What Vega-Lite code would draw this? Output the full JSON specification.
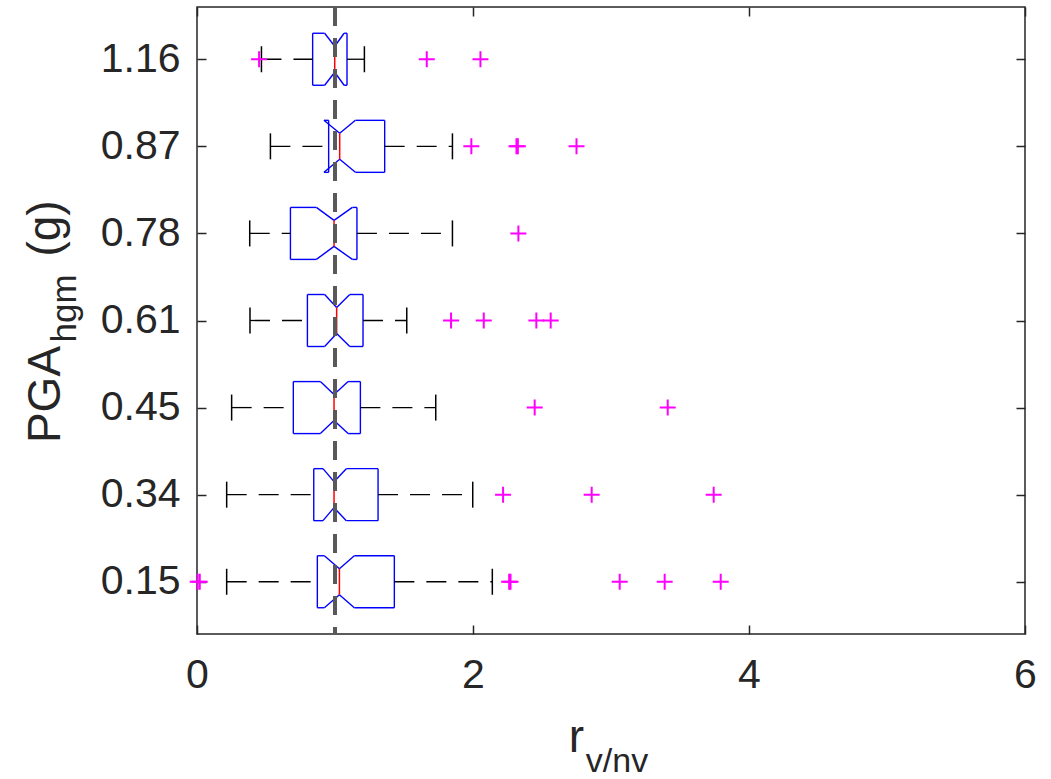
{
  "$schema": "https://vega.github.io/schema/vega-lite/v6.json",
  "autosize": {"type": "none"},
  "padding": {"left": 197, "top": 7, "right": 26, "bottom": 145},
  "width": 828,
  "height": 627,
  "background": "white",
  "config": {
    "font": "Liberation Sans",
    "view": {"stroke": "#262626", "strokeWidth": 1.5},
    "axis": {
      "grid": false,
      "domain": false,
      "labelFont": "Liberation Sans",
      "labelFontSize": 41,
      "labelColor": "#262626",
      "labelFlush": false,
      "tickColor": "#262626",
      "tickWidth": 1.5,
      "tickSize": -9,
      "titleFont": "Liberation Sans",
      "titleFontWeight": "normal",
      "titleColor": "#262626"
    }
  },
  "datasets": {
    "stats": [
      {"pga": "1.16", "wlo": 0.467, "q1": 0.838, "nlo": 0.925, "med": 0.998, "nhi": 1.066, "q3": 1.087, "whi": 1.213},
      {"pga": "0.87", "wlo": 0.532, "q1": 0.954, "nlo": 0.92, "med": 1.034, "nhi": 1.148, "q3": 1.36, "whi": 1.851},
      {"pga": "0.78", "wlo": 0.382, "q1": 0.677, "nlo": 0.865, "med": 0.993, "nhi": 1.126, "q3": 1.159, "whi": 1.851},
      {"pga": "0.61", "wlo": 0.384, "q1": 0.8, "nlo": 0.925, "med": 1.012, "nhi": 1.107, "q3": 1.203, "whi": 1.52},
      {"pga": "0.45", "wlo": 0.251, "q1": 0.698, "nlo": 0.894, "med": 0.993, "nhi": 1.095, "q3": 1.184, "whi": 1.73},
      {"pga": "0.34", "wlo": 0.215, "q1": 0.846, "nlo": 0.913, "med": 0.993, "nhi": 1.082, "q3": 1.312, "whi": 1.998},
      {"pga": "0.15", "wlo": 0.215, "q1": 0.872, "nlo": 0.923, "med": 1.032, "nhi": 1.14, "q3": 1.43, "whi": 2.14}
    ],
    "outliers": [
      {"pga": "1.16", "r": 0.45},
      {"pga": "1.16", "r": 1.665},
      {"pga": "1.16", "r": 2.054},
      {"pga": "0.87", "r": 1.988},
      {"pga": "0.87", "r": 2.315},
      {"pga": "0.87", "r": 2.325},
      {"pga": "0.87", "r": 2.75},
      {"pga": "0.78", "r": 2.329},
      {"pga": "0.61", "r": 1.841},
      {"pga": "0.61", "r": 2.078},
      {"pga": "0.61", "r": 2.459},
      {"pga": "0.61", "r": 2.563},
      {"pga": "0.45", "r": 2.447},
      {"pga": "0.45", "r": 3.411},
      {"pga": "0.34", "r": 2.218},
      {"pga": "0.34", "r": 2.86},
      {"pga": "0.34", "r": 3.744},
      {"pga": "0.15", "r": 0.005},
      {"pga": "0.15", "r": 0.02},
      {"pga": "0.15", "r": 2.262},
      {"pga": "0.15", "r": 2.272},
      {"pga": "0.15", "r": 3.063},
      {"pga": "0.15", "r": 3.389},
      {"pga": "0.15", "r": 3.795}
    ]
  },
  "layer": [
    {
      "data": {"name": "stats"},
      "encoding": {
        "y": {
          "field": "pga", "type": "ordinal",
          "scale": {"type": "point", "domain": ["1.16", "0.87", "0.78", "0.61", "0.45", "0.34", "0.15"], "padding": 0.6},
          "axis": {
            "title": "PGA", "labelPadding": 26,
            "titleFontSize": 46, "titleAngle": -90, "titleAlign": "center", "titleBaseline": "alphabetic",
            "titleX": -138, "titleY": 387
          }
        }
      },
      "layer": [
        {
          "mark": {"type": "rule", "color": "#0000FF", "strokeWidth": 1.4, "yOffset": -26},
          "encoding": {
            "x": {"field": "q1", "type": "quantitative", "scale": {"domain": [0, 6], "nice": false},
              "axis": {"values": [0, 2, 4, 6], "format": "d", "labelPadding": 30, "title": "r",
                "titleFontSize": 46, "titleAlign": "center", "titleBaseline": "alphabetic", "titleX": 379, "titleY": 117}},
            "x2": {"field": "nlo"}
          }
        },
        {
          "mark": {"type": "rule", "color": "#0000FF", "strokeWidth": 1.4, "yOffset": -26, "y2Offset": -13},
          "encoding": {"x": {"field": "nlo", "type": "quantitative"}, "x2": {"field": "med"}, "y2": {"field": "pga"}}
        },
        {
          "mark": {"type": "rule", "color": "#0000FF", "strokeWidth": 1.4, "yOffset": -13, "y2Offset": -26},
          "encoding": {"x": {"field": "med", "type": "quantitative"}, "x2": {"field": "nhi"}, "y2": {"field": "pga"}}
        },
        {
          "mark": {"type": "rule", "color": "#0000FF", "strokeWidth": 1.4, "yOffset": -26},
          "encoding": {"x": {"field": "nhi", "type": "quantitative"}, "x2": {"field": "q3"}}
        },
        {
          "mark": {"type": "rule", "color": "#0000FF", "strokeWidth": 1.4, "yOffset": 26},
          "encoding": {"x": {"field": "q1", "type": "quantitative"}, "x2": {"field": "nlo"}}
        },
        {
          "mark": {"type": "rule", "color": "#0000FF", "strokeWidth": 1.4, "yOffset": 26, "y2Offset": 13},
          "encoding": {"x": {"field": "nlo", "type": "quantitative"}, "x2": {"field": "med"}, "y2": {"field": "pga"}}
        },
        {
          "mark": {"type": "rule", "color": "#0000FF", "strokeWidth": 1.4, "yOffset": 13, "y2Offset": 26},
          "encoding": {"x": {"field": "med", "type": "quantitative"}, "x2": {"field": "nhi"}, "y2": {"field": "pga"}}
        },
        {
          "mark": {"type": "rule", "color": "#0000FF", "strokeWidth": 1.4, "yOffset": 26},
          "encoding": {"x": {"field": "nhi", "type": "quantitative"}, "x2": {"field": "q3"}}
        },
        {
          "mark": {"type": "rule", "color": "#0000FF", "strokeWidth": 1.4, "yOffset": -26, "y2Offset": 26},
          "encoding": {"x": {"field": "q1", "type": "quantitative"}, "y2": {"field": "pga"}}
        },
        {
          "mark": {"type": "rule", "color": "#0000FF", "strokeWidth": 1.4, "yOffset": -26, "y2Offset": 26},
          "encoding": {"x": {"field": "q3", "type": "quantitative"}, "y2": {"field": "pga"}}
        },
        {
          "mark": {"type": "rule", "color": "#FF0000", "strokeWidth": 1.5, "yOffset": -13, "y2Offset": 13},
          "encoding": {"x": {"field": "med", "type": "quantitative"}, "y2": {"field": "pga"}}
        },
        {
          "mark": {"type": "rule", "color": "#000000", "strokeWidth": 1.3, "strokeDash": [20, 12]},
          "encoding": {"x": {"field": "wlo", "type": "quantitative"}, "x2": {"field": "q1"}}
        },
        {
          "mark": {"type": "rule", "color": "#000000", "strokeWidth": 1.3, "strokeDash": [20, 12]},
          "encoding": {"x": {"field": "q3", "type": "quantitative"}, "x2": {"field": "whi"}}
        },
        {
          "mark": {"type": "rule", "color": "#000000", "strokeWidth": 1.5, "yOffset": -13, "y2Offset": 13},
          "encoding": {"x": {"field": "wlo", "type": "quantitative"}, "y2": {"field": "pga"}}
        },
        {
          "mark": {"type": "rule", "color": "#000000", "strokeWidth": 1.5, "yOffset": -13, "y2Offset": 13},
          "encoding": {"x": {"field": "whi", "type": "quantitative"}, "y2": {"field": "pga"}}
        },
        {
          "mark": {"type": "rule", "color": "#595959", "strokeWidth": 3, "strokeDash": [19, 12]},
          "encoding": {"x": {"datum": 1, "type": "quantitative"}, "y": null}
        },
        {
          "data": {"name": "outliers"},
          "mark": {"type": "point", "shape": "M-1,0L1,0M0,-1L0,1", "size": 256, "filled": false, "stroke": "#FF00FF", "strokeWidth": 2, "opacity": 1},
          "encoding": {"x": {"field": "r", "type": "quantitative"}, "y": {"field": "pga", "type": "ordinal"}}
        }
      ]
    },
    {
      "data": {"name": "stats"},
      "mark": {"type": "point", "opacity": 0},
      "encoding": {
        "x": {"field": "med", "type": "quantitative", "scale": {"domain": [0, 6], "nice": false},
          "axis": {"orient": "bottom", "labels": false, "ticks": false, "title": "v/nv",
            "titleFontSize": 34, "titleAlign": "center", "titleBaseline": "alphabetic", "titleX": 419.5, "titleY": 137}},
        "y": {"field": "pga", "type": "ordinal",
          "scale": {"type": "point", "domain": ["1.16", "0.87", "0.78", "0.61", "0.45", "0.34", "0.15"], "padding": 0.6},
          "axis": {"orient": "left", "labels": false, "ticks": false, "title": "hgm",
            "titleFontSize": 35, "titleAngle": -90, "titleAlign": "center", "titleBaseline": "alphabetic", "titleX": -122, "titleY": 301}}
      }
    },
    {
      "data": {"name": "stats"},
      "mark": {"type": "point", "opacity": 0},
      "encoding": {
        "x": {"field": "med", "type": "quantitative", "scale": {"domain": [0, 6], "nice": false},
          "axis": {"orient": "top", "values": [0, 2, 4, 6], "labels": false, "title": null}},
        "y": {"field": "pga", "type": "ordinal",
          "scale": {"type": "point", "domain": ["1.16", "0.87", "0.78", "0.61", "0.45", "0.34", "0.15"], "padding": 0.6},
          "axis": {"orient": "left", "labels": false, "ticks": false, "title": "(g)",
            "titleFontSize": 46, "titleAngle": -90, "titleAlign": "center", "titleBaseline": "alphabetic", "titleX": -138, "titleY": 221}}
      }
    },
    {
      "data": {"name": "stats"},
      "mark": {"type": "point", "opacity": 0},
      "encoding": {
        "x": {"field": "med", "type": "quantitative", "scale": {"domain": [0, 6], "nice": false}, "axis": null},
        "y": {"field": "pga", "type": "ordinal",
          "scale": {"type": "point", "domain": ["1.16", "0.87", "0.78", "0.61", "0.45", "0.34", "0.15"], "padding": 0.6},
          "axis": {"orient": "right", "labels": false, "title": null}}
      }
    }
  ],
  "resolve": {"scale": {"x": "independent", "y": "independent"}}
}
